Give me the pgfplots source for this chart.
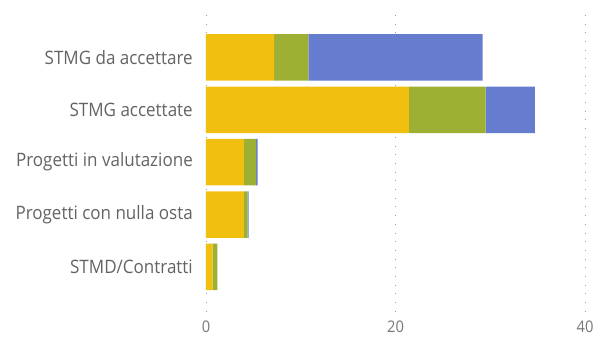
\documentclass[border=0pt]{standalone}
\usepackage{pgfplots}
\pgfplotsset{compat=1.18}
\usepackage{fontspec}
\setmainfont{Open Sans}[FakeStretch=0.92]

\definecolor{serieYellow}{HTML}{F0BF10}
\definecolor{serieGreen}{HTML}{9DB034}
\definecolor{serieBlue}{HTML}{657CCF}
\definecolor{labelGray}{HTML}{646362}
\definecolor{tickGray}{HTML}{777777}
\definecolor{gridGray}{HTML}{A0A0A0}

\begin{document}
\begin{tikzpicture}
\path[use as bounding box] (-206pt,-32pt) rectangle (387pt,312pt);
\begin{axis}[
  at={(0,0)}, anchor=south west,
  scale only axis, width=379pt, height=297pt,
  xbar stacked, bar width=0.887,
  xmin=0, xmax=40,
  ymin=-0.81, ymax=4.86, y dir=reverse,
  ytick={0,1,2,3,4},
  yticklabels={STMG da accettare, STMG accettate, Progetti in valutazione, Progetti con nulla osta, STMD/Contratti},
  xtick={0,20,40},
  axis line style={draw=none},
  major tick length=0pt,
  xmajorgrids,
  major grid style={gridGray, line width=0.9pt, dash pattern=on 0.9pt off 7.8pt},
  y tick label style={font=\fontsize{18.5}{20}\selectfont, text=labelGray, inner sep=0pt, anchor=east, xshift=-13pt},
  x tick label style={font=\fontsize{16}{18}\selectfont, text=tickGray, inner sep=0pt, anchor=north, yshift=-8.5pt},
  /pgf/number format/assume math mode=true,
]
\addplot[fill=serieYellow, draw=none] coordinates {(7.2,0) (21.4,1) (4.0,2) (4.0,3) (0.7,4)};
\addplot[fill=serieGreen, draw=none] coordinates {(3.6,0) (8.1,1) (1.3,2) (0.4,3) (0.5,4)};
\addplot[fill=serieBlue, draw=none] coordinates {(18.4,0) (5.2,1) (0.15,2) (0.1,3) (0,4)};
\end{axis}
\end{tikzpicture}
\end{document}
